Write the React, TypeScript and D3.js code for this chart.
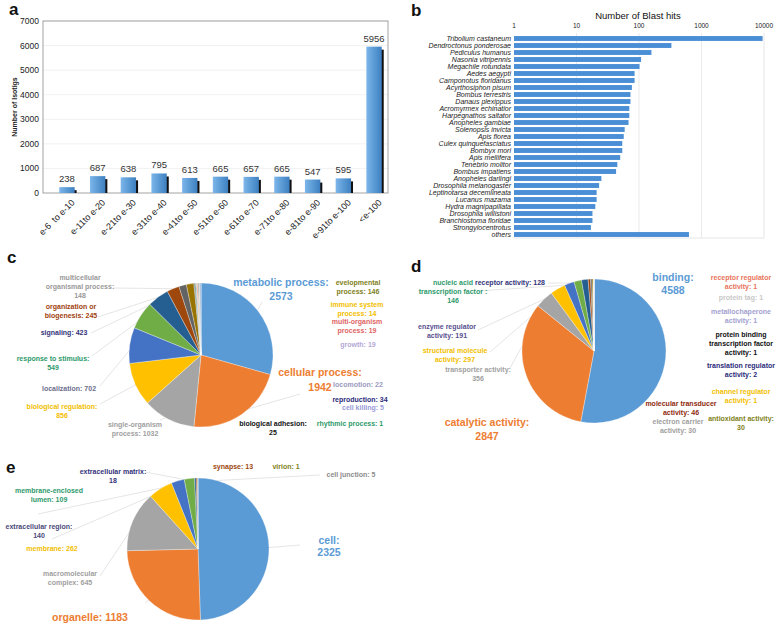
import React from "react";
import * as d3 from "d3";

// ---------- Panel a data ----------
const evalueCats = ["e-6  to e-10", "e-11to e-20", "e-21to e-30", "e-31to e-40", "e-41to e-50", "e-51to e-60", "e-61to e-70", "e-71to e-80", "e-81to e-90", "e-91to e-100", "<e-100"];
const isotigCounts = [238, 687, 638, 795, 613, 665, 657, 665, 547, 595, 5956];
const yTicksA = [0, 1000, 2000, 3000, 4000, 5000, 6000, 7000];

// ---------- Panel b data ----------
const species = ["Tribolium castaneum", "Dendroctonus ponderosae", "Pediculus humanus", "Nasonia vitripennis", "Megachile rotundata", "Aedes aegypti", "Camponotus floridanus", "Acyrthosiphon pisum", "Bombus terrestris", "Danaus plexippus", "Acromyrmex echinatior", "Harpegnathos saltator", "Anopheles gambiae", "Solenopsis invicta", "Apis florea", "Culex quinquefasciatus", "Bombyx mori", "Apis mellifera", "Tenebrio molitor", "Bombus impatiens", "Anopheles darlingi", "Drosophila melanogaster", "Leptinotarsa decemlineata", "Lucanus mazama", "Hydra magnipapillata", "Drosophila willistoni", "Branchiostoma floridae", "Strongylocentrotus", "others"];
const blastHits = [9500, 330, 158, 108, 102, 85, 85, 77, 73, 73, 70, 70, 68, 59, 57, 54, 54, 50, 45, 43, 25, 23, 21, 21, 20, 18, 18, 17, 630];
const xTicksB = [1, 10, 100, 1000, 10000];

// ---------- Panel c data ----------
const bpNames = ["metabolic process", "cellular process", "single-organism process", "biological regulation", "localization", "response to stimulus", "signaling", "organization or biogenesis", "multicellular organismal process", "developmental process", "immune system process", "multi-organism process", "growth", "locomotion", "reproduction", "cell killing", "biological adhesion", "rhythmic process"];
const bpValues = [2573, 1942, 1032, 856, 702, 549, 423, 245, 148, 146, 14, 19, 19, 22, 34, 5, 25, 1];

// ---------- Panel d data ----------
const mfNames = ["binding", "catalytic activity", "transporter activity", "structural molecule activity", "enzyme regulator activity", "nucleic acid transcription factor", "receptor activity", "molecular transducer activity", "electron carrier activity", "antioxidant activity", "translation regulator activity", "channel regulator activity", "protein binding transcription factor activity", "metallochaperone activity", "protein tag", "receptor regulator activity"];
const mfValues = [4588, 2847, 356, 297, 191, 146, 128, 46, 30, 30, 2, 1, 1, 1, 1, 1];

// ---------- Panel e data ----------
const ccNames = ["cell", "organelle", "macromolecular complex", "membrane", "extracellular region", "membrane-enclosed lumen", "extracellular matrix", "synapse", "cell junction", "virion"];
const ccValues = [2325, 1183, 645, 262, 140, 109, 18, 13, 5, 1];

// Excel-like palette
const palette = ["#5B9BD5", "#ED7D31", "#A5A5A5", "#FFC000", "#4472C4", "#70AD47", "#255E91", "#9E480E", "#636363", "#997300", "#264478", "#43682B", "#7CAFDD", "#F1975A", "#B7B7B7", "#FFCD33", "#698ED0", "#8CC168"];

const FONT = "'Liberation Sans', Arial, sans-serif";
const BIG = 10.5;
const SMALL = 7;

type Lab = { i: number; lines: string[]; x: number; y: number; c: string; fs?: number; lh?: number; lx?: number; ly?: number };

// label layouts (annotation positions)
const labelsC: Lab[] = [
  { i: 0, lines: ["metabolic process:", "2573"], x: 281, y: 282, c: "#5B9BD5", fs: BIG, lh: 14, lx: 262, ly: 302 },
  { i: 1, lines: ["cellular process:", "1942"], x: 320, y: 372, c: "#ED7D31", fs: BIG, lh: 15, lx: 300, ly: 394 },
  { i: 2, lines: ["single-organism", "process: 1032"], x: 135, y: 425, c: "#A0A0A0", lx: 160, ly: 420 },
  { i: 3, lines: ["biological regulation:", "856"], x: 62, y: 407, c: "#F2BE00", lx: 100, ly: 404 },
  { i: 4, lines: ["localization: 702"], x: 69, y: 389, c: "#6E6E8E", lx: 100, ly: 386 },
  { i: 5, lines: ["response to stimulus:", "549"], x: 53, y: 359, c: "#2E9A6B", lx: 92, ly: 356 },
  { i: 6, lines: ["signaling: 423"], x: 64, y: 333, c: "#33337A", lx: 91, ly: 333 },
  { i: 7, lines: ["organization or", "biogenesis: 245"], x: 71, y: 307, c: "#A0410D", lx: 98, ly: 317 },
  { i: 8, lines: ["multicellular", "organismal process:", "148"], x: 80, y: 278, c: "#999999", lx: 113, ly: 288 },
  { i: 9, lines: ["evelopmental", "process: 146"], x: 358, y: 283, c: "#7F7F1A" },
  { i: 10, lines: ["immune system", "process: 14"], x: 357, y: 305, c: "#F2BE00" },
  { i: 11, lines: ["multi-organism", "process: 19"], x: 357, y: 322, c: "#E06464" },
  { i: 12, lines: ["growth: 19"], x: 358, y: 345, c: "#B4A7D6" },
  { i: 13, lines: ["locomotion: 22"], x: 358, y: 385, c: "#9A9AC0" },
  { i: 14, lines: ["reproduction: 34"], x: 360, y: 400, c: "#2B2B7A" },
  { i: 15, lines: ["cell killing: 5"], x: 363, y: 408, c: "#9A9AD8" },
  { i: 16, lines: ["biological adhesion:", "25"], x: 273, y: 424, c: "#111111" },
  { i: 17, lines: ["rhythmic process: 1"], x: 350, y: 424, c: "#2E9A6B" },
];

const labelsD: Lab[] = [
  { i: 0, lines: ["binding:", "4588"], x: 673, y: 277, c: "#5B9BD5", fs: BIG, lh: 13.5 },
  { i: 1, lines: ["catalytic activity:", "2847"], x: 487, y: 422, c: "#ED7D31", fs: BIG, lh: 14 },
  { i: 2, lines: ["transporter activity:", "356"], x: 478, y: 370, c: "#A0A0A0", lx: 510, ly: 368 },
  { i: 3, lines: ["structural molecule", "activity: 297"], x: 455, y: 351, c: "#F2BE00", lx: 490, ly: 352 },
  { i: 4, lines: ["enzyme regulator", "activity: 191"], x: 447, y: 327, c: "#5A5090", lx: 478, ly: 330 },
  { i: 5, lines: ["nucleic acid", "transcription factor :", "146"], x: 453, y: 283, c: "#2E9A6B", lx: 478, ly: 291 },
  { i: 6, lines: ["receptor activity: 128"], x: 510, y: 283, c: "#33337A", lx: 548, ly: 283 },
  { i: 15, lines: ["receptor regulator", "activity: 1"], x: 741, y: 278, c: "#E8735A" },
  { i: 14, lines: ["protein tag: 1"], x: 741, y: 298, c: "#C8C8C8" },
  { i: 13, lines: ["metallochaperone", "activity: 1"], x: 741, y: 312, c: "#A39FCF" },
  { i: 12, lines: ["protein binding", "transcription factor", "activity: 1"], x: 741, y: 335, c: "#111111" },
  { i: 10, lines: ["translation regulator", "activity: 2"], x: 741, y: 366, c: "#2B2B7A" },
  { i: 11, lines: ["channel regulator", "activity: 1"], x: 741, y: 392, c: "#F2BE00" },
  { i: 9, lines: ["antioxidant activity:", "30"], x: 741, y: 419, c: "#7F7F1A" },
  { i: 7, lines: ["molecular transducer", "activity: 46"], x: 681, y: 404, c: "#8E2A0E" },
  { i: 8, lines: ["electron carrier", "activity: 30"], x: 678, y: 422, c: "#A0A0A0" },
];

const labelsE: Lab[] = [
  { i: 0, lines: ["cell:", "2325"], x: 329, y: 540, c: "#5B9BD5", fs: BIG, lh: 12.5, lx: 300, ly: 545 },
  { i: 1, lines: ["organelle:  1183"], x: 90, y: 617, c: "#ED7D31", fs: BIG, lx: 145, ly: 603 },
  { i: 2, lines: ["macromolecular", "complex: 645"], x: 70, y: 574, c: "#A0A0A0", lx: 100, ly: 576 },
  { i: 3, lines: ["membrane: 262"], x: 52, y: 549, c: "#F2BE00" },
  { i: 4, lines: ["extracellular region:", "140"], x: 39, y: 527, c: "#4A4A7A", lx: 52, ly: 539 },
  { i: 5, lines: ["membrane-enclosed", "lumen: 109"], x: 49, y: 491, c: "#2E9A6B", lx: 38, ly: 514 },
  { i: 6, lines: ["extracellular matrix:", "18"], x: 113, y: 472, c: "#33337A", lx: 145, ly: 472 },
  { i: 7, lines: ["synapse: 13"], x: 233, y: 467, c: "#9E480E" },
  { i: 9, lines: ["virion: 1"], x: 286, y: 467, c: "#7F7F1A" },
  { i: 8, lines: ["cell junction: 5"], x: 351, y: 475, c: "#8C8C8C", lx: 320, ly: 475 },
];

function PanelA() {
  const x = d3.scaleBand<string>().domain(evalueCats).range([51.6, 389.4]).paddingInner(0.5).paddingOuter(0.25);
  const y = d3.scaleLinear().domain([0, 7000]).range([193, 21]);
  const left = 43, right = 388;
  return (
    <g fontFamily={FONT}>
      <defs>
        <linearGradient id="barGrad" x1="0" x2="1" y1="0" y2="0">
          <stop offset="0" stopColor="#7DB6EA" />
          <stop offset="0.5" stopColor="#5B9BD5" />
          <stop offset="1" stopColor="#3E7FC0" />
        </linearGradient>
      </defs>
      {yTicksA.slice(1).map((t) => (
        <line key={t} x1={left} x2={right} y1={y(t)} y2={y(t)} stroke="#EDEDED" strokeWidth={0.8} />
      ))}
      <rect x={left} y={y(7000)} width={right - left} height={y(0) - y(7000)} fill="none" stroke="#8C8C8C" strokeWidth={0.8} />
      {yTicksA.map((t) => (
        <text key={t} x={39} y={y(t)} dy="0.35em" textAnchor="end" fontSize={8.5} fill="#222">{t}</text>
      ))}
      <text transform={`translate(17,${(y(0) + y(7000)) / 2}) rotate(-90)`} textAnchor="middle" fontSize={7} fontWeight="bold" fill="#222">Number of Isotigs</text>
      {evalueCats.map((c, i) => {
        const bx = x(c)!;
        const bw = x.bandwidth();
        const top = y(isotigCounts[i]);
        return (
          <g key={c}>
            <rect x={bx + 2} y={top + 3} width={bw} height={y(0) - top - 3} fill="#111" />
            <rect x={bx} y={top} width={bw} height={y(0) - top} fill="url(#barGrad)" />
            <text x={bx + bw / 2} y={top - 5} textAnchor="middle" fontSize={9.5} fill="#333">{isotigCounts[i]}</text>
            <text transform={`translate(${bx + bw / 2 + 6},${y(0) + 8}) rotate(-45)`} textAnchor="end" fontSize={9} dy="0.35em" fill="#222" style={{ whiteSpace: "pre" }}>{c}</text>
          </g>
        );
      })}
      <text x={9} y={15} fontSize={17} fontWeight="bold" fill="#111">a</text>
    </g>
  );
}

function PanelB() {
  const x = d3.scaleLog().domain([1, 10000]).range([514, 764]);
  const y = d3.scaleBand<string>().domain(species).range([35, 238]).paddingInner(0.3).paddingOuter(0.15);
  return (
    <g fontFamily={FONT}>
      {xTicksB.slice(1, 4).map((t) => (
        <line key={t} x1={x(t)} x2={x(t)} y1={33} y2={238} stroke="#E6E6E6" strokeWidth={0.8} />
      ))}
      <line x1={764} x2={764} y1={33} y2={238} stroke="#E0E0E0" strokeWidth={0.8} />
      <line x1={514} x2={764} y1={238} y2={238} stroke="#E0E0E0" strokeWidth={0.8} />
      {xTicksB.map((t) => (
        <text key={t} x={x(t)} y={28} textAnchor="middle" fontSize={6.5} fill="#222">{t}</text>
      ))}
      <text x={638} y={19} textAnchor="middle" fontSize={9.5} fill="#111">Number of Blast hits</text>
      {species.map((s, i) => (
        <g key={s}>
          <rect x={x(1)} y={y(s)!} width={x(blastHits[i]) - x(1)} height={y.bandwidth()} fill="#4A8FD6" />
          <text x={511} y={y(s)! + y.bandwidth() / 2} dy="0.35em" textAnchor="end" fontSize={7} fontStyle="italic" fill="#222">{s}</text>
        </g>
      ))}
      <text x={411} y={16} fontSize={17} fontWeight="bold" fill="#111">b</text>
    </g>
  );
}

function Pie({ values, cx, cy, r, labels, letter, lx, ly }: { values: number[]; cx: number; cy: number; r: number; labels: Lab[]; letter: string; lx: number; ly: number }) {
  const arcs = d3.pie<number>().sort(null).value((d) => d)(values);
  const arc = d3.arc<d3.PieArcDatum<number>>().innerRadius(0).outerRadius(r);
  return (
    <g fontFamily={FONT}>
      {labels.filter((l) => l.lx !== undefined).map((l, k) => {
        const a = arcs[l.i];
        const mid = (a.startAngle + a.endAngle) / 2;
        const px = cx + Math.sin(mid) * r * 0.95;
        const py = cy - Math.cos(mid) * r * 0.95;
        return <line key={"ln" + k} x1={l.lx} y1={l.ly} x2={px} y2={py} stroke="#DADADA" strokeWidth={0.7} />;
      })}
      <g transform={`translate(${cx},${cy})`}>
        {arcs.map((a, i) => (
          <path key={i} d={arc(a)!} fill={palette[i % palette.length]} stroke="#fff" strokeWidth={0.3} />
        ))}
      </g>
      {labels.map((l, k) => {
        const fs = l.fs ?? SMALL;
        const lh = l.lh ?? fs * 1.22;
        return (
          <text key={k} x={l.x} y={l.y} textAnchor="middle" fontSize={fs} fontWeight="bold" fill={l.c}>
            {l.lines.map((t, j) => (
              <tspan key={j} x={l.x} y={l.y + j * lh} dy="0.35em">{t}</tspan>
            ))}
          </text>
        );
      })}
      <text x={lx} y={ly} fontSize={17} fontWeight="bold" fill="#111">{letter}</text>
    </g>
  );
}

export default function App() {
  return (
    <svg width={778} height={626} style={{ position: "absolute", left: 0, top: 0, display: "block", background: "#fff" }}>
      <rect width={778} height={626} fill="#fff" />
      <PanelA />
      <PanelB />
      <Pie values={bpValues} cx={201} cy={355} r={72} labels={labelsC} letter="c" lx={7} ly={263} />
      <Pie values={mfValues} cx={594} cy={351} r={72} labels={labelsD} letter="d" lx={411} ly={272} />
      <Pie values={ccValues} cx={198} cy={549} r={71} labels={labelsE} letter="e" lx={6} ly={473} />
    </svg>
  );
}
